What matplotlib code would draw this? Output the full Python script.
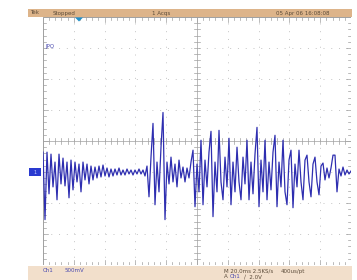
import numpy as np
import matplotlib
matplotlib.use("Agg")
import matplotlib.pyplot as plt
from matplotlib.patches import Rectangle, Polygon

# Ch1 trace, mV relative to channel ground, one sample per ~2 px of screen
ch1_mv = [
    320, -768, 320, -352, 288, -240, 160, -448, 288, -192,
    224, -224, 160, -416, 192, -288, 160, -160, 128, -320,
    160, -128, 128, -192, 96, -128, 80, -96, 96, -80,
    112, -64, 64, -80, 48, -64, 48, -48, 64, -48,
    32, -48, 48, -32, 32, -48, 32, -32, 48, -32,
    32, -64, 96, -400, 240, 784, -528, 160, -320, 400,
    960, -768, 160, -192, 240, -160, 128, -240, 192, -96,
    80, -160, 64, -96, 160, 352, -560, 128, -320, 512,
    -528, 192, -240, 320, 656, -720, 160, -320, 672, -160,
    -448, 240, -240, 544, -528, 160, -320, 400, -160, -448,
    240, -192, 512, -448, 160, -352, 288, 720, -560, 192,
    -320, 512, -448, 160, -288, 320, 592, -560, 160, -240,
    512, -320, -528, 192, 352, -576, 128, -240, 352, -160,
    -448, 192, 272, -160, -400, 128, 240, -160, -368, 96,
    144, -128, 64, -96, 64, 272, 272, -320, 48, -64,
    80, -48, 32, -32, 16,
]
t_start, t_end = -23.4, 176.6      # ms, 20 ms/div, trigger 1.17 div from left
volts_per_div = 0.5
ground_div = -1.0                  # channel position marker

top_texts = [("Tek", 30), ("Stopped", 53), ("1 Acqs", 152), ("05 Apr 06 16:08:08", 276)]

W, H = 357, 280
fig = plt.figure(figsize=(W / 100, H / 100), dpi=100)
fig.patch.set_facecolor("white")

def fx(x):
    return x / W

def fy(y):
    return 1 - y / H

# status bars
fig.patches.append(Rectangle((fx(28), fy(17)), fx(324), 8 / H, transform=fig.transFigure,
                             facecolor="#ddb48a", edgecolor="none", zorder=0))
fig.patches.append(Rectangle((fx(28), 0), fx(324), 14 / H, transform=fig.transFigure,
                             facecolor="#f2dfcb", edgecolor="none", zorder=0))

for txt, x in top_texts:
    fig.text(fx(x), fy(13), txt, fontsize=4, color="#5a4a38", va="center", ha="left")

fig.text(fx(43), fy(271), "Ch1", fontsize=4, color="#4a4ab0", va="center")
fig.text(fx(65), fy(271), "500mV", fontsize=4, color="#4a4ab0", va="center")
fig.text(fx(224), fy(271), "M 20.0ms 2.5KS/s", fontsize=4, color="#5a4a38", va="center")
fig.text(fx(281), fy(271), "400us/pt", fontsize=4, color="#5a4a38", va="center")
fig.text(fx(224), fy(277), "A", fontsize=4, color="#5a4a38", va="center")
fig.text(fx(230), fy(277), "Ch1", fontsize=4, color="#4a4ab0", va="center")
fig.text(fx(244), fy(277), "\u2215  2.0V", fontsize=4, color="#5a4a38", va="center")

ax = fig.add_axes([fx(43), fy(265), fx(308), 248 / H])
ax.set_facecolor("white")
for s in ax.spines.values():
    s.set_visible(False)
ax.set_xticks([])
ax.set_yticks([])

# graticule in axes fractions
grid_c = "#c4c4c4"
for i in range(1, 10):
    if i != 5:
        ax.plot([i / 10, i / 10], [0, 1], transform=ax.transAxes, color=grid_c,
                lw=0.7, ls=(0, (1, 7)))
for j in range(1, 8):
    if j != 4:
        ax.plot([0, 1], [j / 8, j / 8], transform=ax.transAxes, color=grid_c,
                lw=0.7, ls=(0, (1, 7)))

frame_c = "#a0a0a0"
ax.plot([0, 1, 1, 0, 0], [0, 0, 1, 1, 0], transform=ax.transAxes, color=frame_c, lw=0.7)
ax.plot([0.5, 0.5], [0, 1], transform=ax.transAxes, color=frame_c, lw=0.5)
ax.plot([0, 1], [0.5, 0.5], transform=ax.transAxes, color=frame_c, lw=0.5)

dx = 3 / 308
dy = 3 / 248
for i in range(1, 50):
    xf = i / 50
    L = 1.6 if i % 5 == 0 else 1
    ax.plot([xf, xf], [0.5 - dy, 0.5 + dy], transform=ax.transAxes, color=frame_c, lw=0.5)
    ax.plot([xf, xf], [0, dy * L], transform=ax.transAxes, color=frame_c, lw=0.5)
    ax.plot([xf, xf], [1, 1 - dy * L], transform=ax.transAxes, color=frame_c, lw=0.5)
for j in range(1, 40):
    yf = j / 40
    L = 1.6 if j % 5 == 0 else 1
    ax.plot([0.5 - dx, 0.5 + dx], [yf, yf], transform=ax.transAxes, color=frame_c, lw=0.5)
    ax.plot([0, dx * L], [yf, yf], transform=ax.transAxes, color=frame_c, lw=0.5)
    ax.plot([1, 1 - dx * L], [yf, yf], transform=ax.transAxes, color=frame_c, lw=0.5)

# trace
v = np.array(ch1_mv) / 1000.0
t = np.linspace(t_start, t_end, len(v))
ax.plot(t, v, color="#2e2eb0", lw=0.9, zorder=5)
ax.set_xlim(t_start, t_end)
y_center = -ground_div * volts_per_div
ax.set_ylim(y_center - 4 * volts_per_div, y_center + 4 * volts_per_div)

ax.text(0.008, 0.88, "JPQ", transform=ax.transAxes, fontsize=4, color="#4a4ab0", va="center")

# trigger position and channel marker
fig.patches.append(Polygon([[fx(75), fy(17.5)], [fx(83), fy(17.5)], [fx(79), fy(21.5)]],
                           closed=True, transform=fig.transFigure, facecolor="#2090c8",
                           edgecolor="none", zorder=6))
fig.patches.append(Rectangle((fx(29), fy(176)), fx(12), 8 / H, transform=fig.transFigure,
                             facecolor="#2a3ad0", edgecolor="none", zorder=6))
fig.text(fx(35), fy(172), "1", fontsize=3.5, color="#c8d0ff", va="center", ha="center", zorder=7)

fig.savefig("out.png", dpi=100)
